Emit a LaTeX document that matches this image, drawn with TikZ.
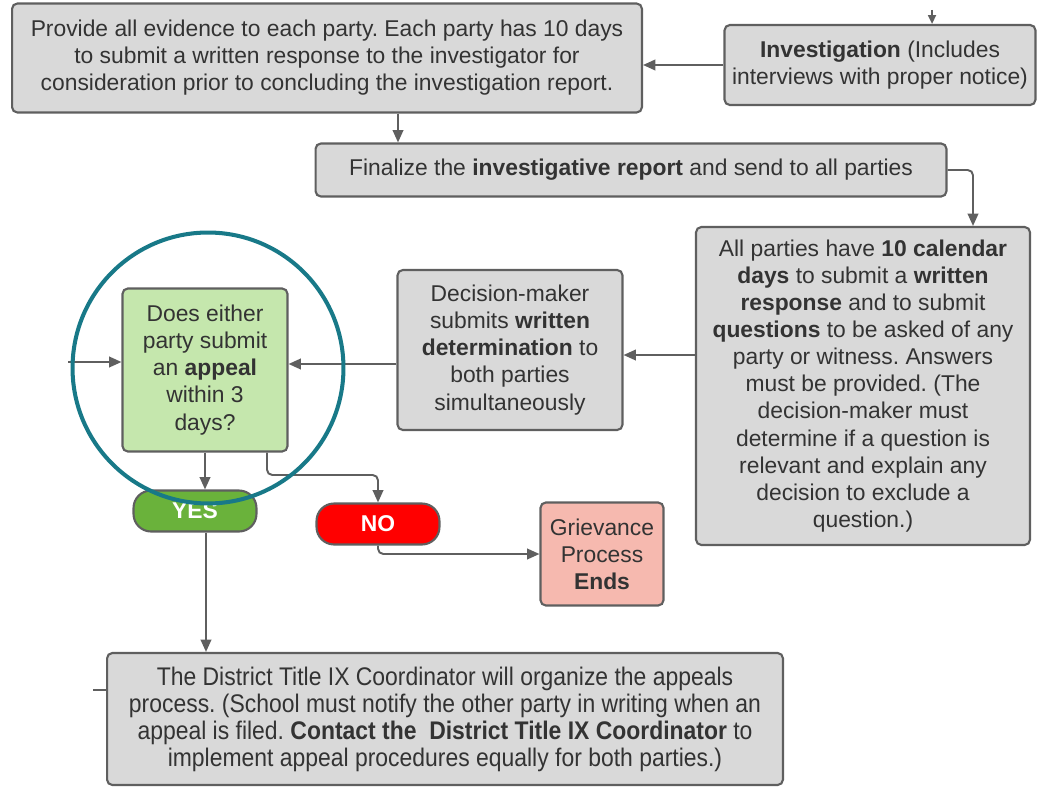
\documentclass[tikz,border=0pt]{standalone}
\usepackage{fontspec}
\setmainfont{Liberation Sans}
\newfontfamily\narrowfont[FakeStretch=0.9]{Liberation Sans}
\usetikzlibrary{positioning,calc,arrows.meta}
\usepackage{xcolor}
\definecolor{boxgray}{RGB}{217,217,217}
\definecolor{linegray}{RGB}{95,95,95}
\definecolor{textgray}{RGB}{51,51,51}
\definecolor{askgreen}{RGB}{197,231,173}
\definecolor{yesgreen}{RGB}{106,178,59}
\definecolor{nored}{RGB}{255,0,0}
\definecolor{endpink}{RGB}{246,185,175}
\definecolor{ringteal}{RGB}{24,121,136}
\frenchspacing

\begin{document}
\begin{tikzpicture}[
    x=0.02cm, y=-0.02cm,
    procbox/.style={rectangle, rounded corners=3pt, draw=linegray, fill=#1,
                    line width=1.2pt, align=center, text=textgray,
                    font=\fontsize{13}{15.4}\selectfont, inner sep=2pt},
    procbox/.default=boxgray,
    pill/.style={rectangle, rounded corners=10pt, draw=linegray, fill=#1,
                 line width=1.2pt, text=white, minimum width=2.46cm,
                 minimum height=0.82cm, font=\fontsize{13}{15}\selectfont\bfseries},
    ring/.style={circle, draw=ringteal, line width=2.3pt, minimum size=5.42cm},
    arrow/.style={-{Triangle[length=7pt, width=6pt]}, line width=1.1pt,
                  draw=linegray, rounded corners=3pt},
    stub/.style={line width=1.1pt, draw=linegray}
]
\useasboundingbox (0,0) rectangle (1037,787);

% top row
\node[procbox, minimum width=12.6cm, minimum height=2.18cm] (evidence) at (327,58) {
    Provide all evidence to each party. Each party has 10 days\\
    to submit a written response to the investigator for\\
    consideration prior to concluding the investigation report.};
\node[procbox, minimum width=6.22cm, minimum height=1.6cm] (invest) at (880,65) {
    \textbf{Investigation} (Includes\\
    interviews with proper notice)};

% report
\node[procbox, minimum width=12.62cm, minimum height=1.06cm] (finalize) at (631,170) {
    Finalize the \textbf{investigative report} and send to all parties};

% responses and determination
\node[procbox, minimum width=6.68cm, minimum height=6.36cm] (parties) at (863,386) {
    All parties have \textbf{10 calendar}\\
    \textbf{days} to submit a \textbf{written}\\
    \textbf{response} and to submit\\
    \textbf{questions} to be asked of any\\
    party or witness. Answers\\
    must be provided. (The\\
    decision-maker must\\
    determine if a question is\\
    relevant and explain any\\
    decision to exclude a\\
    question.)};
\node[procbox, minimum width=4.5cm, minimum height=3.2cm] (determine) at (510,350) {
    Decision-maker\\
    submits \textbf{written}\\
    \textbf{determination} to\\
    both parties\\
    simultaneously};

% appeal question
\node[procbox=askgreen, minimum width=3.3cm, minimum height=3.26cm] (appeal) at (205,370) {
    Does either\\
    party submit\\
    an \textbf{appeal}\\
    within 3\\
    days?};
\node[pill=yesgreen] (yes) at (195,511) {YES};
\node[pill=nored] (no) at (378,524) {NO};
\node[procbox=endpink, minimum width=2.46cm, minimum height=2.06cm] (ends) at (602,554) {
    Grievance\\
    Process\\
    \textbf{Ends}};

% appeals process
\node[procbox, minimum width=13.52cm, minimum height=2.64cm,
      font=\narrowfont\fontsize{14.5}{15.4}\selectfont] (appeals) at (445,719) {
    The District Title IX Coordinator will organize the appeals\\
    process. (School must notify the other party in writing when an\\
    appeal is filed. \textbf{Contact the\ \ District Title IX Coordinator} to\\
    implement appeal procedures equally for both parties.)};

% loose ends
\coordinate (fromtop) at (932,10);
\coordinate (fromleft) at (68,362);
\coordinate (leftstub) at (93,690);
\coordinate (downx) at (398,0);
\coordinate (turnx) at (973,0);

% connectors
\draw[arrow, -{Triangle[length=5pt, width=4.5pt]}] (fromtop) -- (fromtop |- invest.north);
\draw[arrow] (invest.west) -- (invest.west -| evidence.east);
\draw[arrow] (evidence.south -| downx) -- (finalize.north -| downx);
\draw[arrow] (finalize.east) -| (turnx |- parties.north);
\draw[arrow] ([yshift=0.62cm]parties.west) -- ([yshift=0.62cm]parties.west -| determine.east);
\draw[arrow] ([yshift=-0.28cm]determine.west) -- ([yshift=-0.28cm]determine.west -| appeal.east);
\draw[arrow] (fromleft) -- (fromleft -| appeal.west);
\draw[arrow] (appeal.south) -- (appeal.south |- yes.north);
\draw[arrow] ([xshift=1.24cm]appeal.south) |- (330,475) -| (no.north);
\draw[arrow] (no.south) |- (ends.west);
\draw[arrow] ([xshift=0.22cm]yes.south) -- ([xshift=0.22cm]yes.south |- appeals.north);
\draw[stub] (leftstub) -- (leftstub -| appeals.west);

% highlight
\node[ring] (highlight) at (208,368) {};

\end{tikzpicture}
\end{document}
